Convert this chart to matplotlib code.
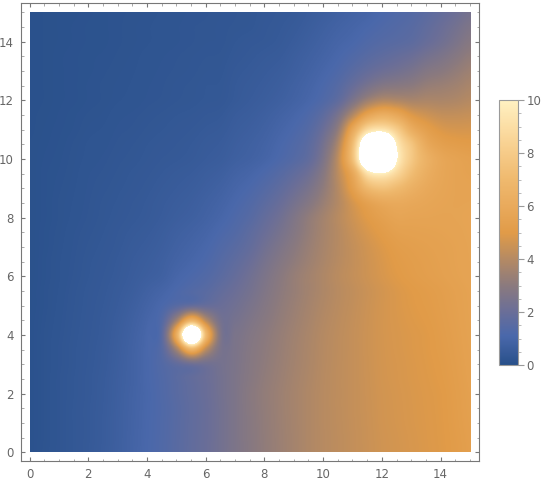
import numpy as np
import matplotlib
matplotlib.use("Agg")
import matplotlib.pyplot as plt
from matplotlib.colors import LinearSegmentedColormap, Normalize
from matplotlib.patches import Rectangle
from matplotlib.ticker import MultipleLocator

# ---- density values, on a 0.5-unit grid (x = 0 .. 15), one list per y ----
z_00 = [0.12,0.21,0.29,0.38,0.47,0.59,0.74,0.92,1.11,1.3,1.53,1.77,2.0,2.29,2.59,2.88,3.14,3.38,3.62,3.86,4.05,4.19,4.33,4.46,4.6,4.69,4.78,4.87,4.96,5.11,5.3]
z_05 = [0.12,0.2,0.29,0.38,0.46,0.58,0.73,0.91,1.1,1.29,1.52,1.76,1.99,2.28,2.6,2.89,3.15,3.39,3.62,3.86,4.05,4.19,4.33,4.47,4.61,4.7,4.79,4.88,4.97,5.13,5.32]
z_10 = [0.12,0.2,0.29,0.38,0.46,0.58,0.73,0.9,1.09,1.28,1.51,1.75,1.98,2.28,2.6,2.9,3.16,3.4,3.63,3.86,4.06,4.2,4.34,4.48,4.63,4.72,4.81,4.89,4.98,5.16,5.35]
z_15 = [0.12,0.2,0.29,0.38,0.46,0.57,0.72,0.89,1.08,1.27,1.5,1.74,1.97,2.28,2.6,2.92,3.17,3.41,3.64,3.86,4.06,4.21,4.35,4.49,4.64,4.73,4.82,4.9,4.99,5.18,5.38]
z_20 = [0.12,0.2,0.29,0.37,0.45,0.56,0.71,0.88,1.07,1.29,1.54,1.77,2.0,2.3,2.6,2.93,3.18,3.41,3.64,3.86,4.06,4.21,4.35,4.5,4.65,4.74,4.83,4.91,5.0,5.2,5.4]
z_25 = [0.12,0.2,0.29,0.37,0.45,0.55,0.7,0.86,1.09,1.31,1.57,1.82,2.03,2.31,2.59,2.88,3.14,3.37,3.61,3.83,4.05,4.21,4.35,4.51,4.67,4.76,4.85,4.93,5.04,5.23,5.43]
z_30 = [0.12,0.2,0.28,0.36,0.44,0.53,0.68,0.86,1.09,1.37,1.76,2.13,2.22,2.35,2.57,2.85,3.09,3.33,3.57,3.8,4.03,4.2,4.35,4.52,4.68,4.77,4.86,4.95,5.07,5.26,5.45]
z_35 = [0.12,0.2,0.28,0.36,0.43,0.52,0.66,0.85,1.1,1.52,3.62,6.66,4.08,2.48,2.56,2.82,3.05,3.29,3.54,3.78,4.02,4.19,4.35,4.53,4.69,4.79,4.88,4.97,5.11,5.29,5.48]
z_40 = [0.12,0.2,0.27,0.35,0.42,0.5,0.64,0.82,1.09,1.63,6.39,15,6.86,2.57,2.53,2.76,3.0,3.25,3.5,3.75,4.0,4.18,4.35,4.53,4.7,4.8,4.89,4.98,5.14,5.32,5.5]
z_45 = [0.12,0.19,0.26,0.34,0.41,0.49,0.61,0.78,1.01,1.41,3.49,6.51,3.92,2.31,2.38,2.64,2.9,3.17,3.43,3.69,3.95,4.15,4.33,4.52,4.7,4.82,4.93,5.03,5.18,5.35,5.52]
z_50 = [0.11,0.18,0.25,0.33,0.4,0.47,0.57,0.72,0.91,1.14,1.5,1.83,1.9,2.01,2.22,2.49,2.79,3.09,3.36,3.63,3.89,4.11,4.3,4.5,4.69,4.84,4.97,5.08,5.22,5.38,5.53]
z_55 = [0.11,0.18,0.24,0.32,0.39,0.45,0.54,0.65,0.81,0.97,1.18,1.38,1.54,1.8,2.06,2.34,2.68,3.01,3.29,3.57,3.84,4.08,4.28,4.48,4.68,4.86,5.01,5.13,5.26,5.41,5.54]
z_60 = [0.1,0.17,0.23,0.3,0.37,0.43,0.5,0.6,0.7,0.8,1.02,1.18,1.35,1.59,1.88,2.21,2.57,2.93,3.27,3.56,3.85,4.12,4.34,4.56,4.78,4.98,5.14,5.26,5.37,5.49,5.6]
z_65 = [0.1,0.17,0.23,0.29,0.36,0.41,0.48,0.57,0.65,0.75,0.9,1.04,1.2,1.45,1.71,2.02,2.41,2.77,3.11,3.44,3.76,4.06,4.32,4.58,4.83,5.06,5.2,5.31,5.41,5.52,5.61]
z_70 = [0.1,0.16,0.22,0.28,0.34,0.39,0.45,0.53,0.6,0.69,0.82,0.94,1.09,1.31,1.54,1.82,2.22,2.59,2.96,3.34,3.7,4.03,4.34,4.64,4.92,5.17,5.29,5.37,5.45,5.53,5.62]
z_75 = [0.1,0.16,0.21,0.27,0.32,0.37,0.43,0.49,0.55,0.64,0.75,0.85,0.98,1.17,1.37,1.67,2.02,2.39,2.8,3.24,3.65,4.03,4.43,4.8,5.12,5.38,5.44,5.48,5.52,5.57,5.64]
z_80 = [0.1,0.15,0.2,0.25,0.3,0.35,0.4,0.45,0.5,0.58,0.67,0.75,0.87,1.03,1.24,1.48,1.83,2.19,2.66,3.15,3.6,4.08,4.57,5.04,5.4,5.66,5.63,5.61,5.59,5.61,5.65]
z_85 = [0.1,0.15,0.2,0.24,0.29,0.34,0.38,0.43,0.48,0.55,0.62,0.69,0.8,0.93,1.12,1.33,1.62,1.95,2.37,2.81,3.36,3.98,4.75,5.47,5.92,6.03,5.89,5.75,5.65,5.6,5.61]
z_90 = [0.1,0.15,0.19,0.23,0.28,0.32,0.36,0.4,0.45,0.51,0.57,0.63,0.72,0.83,1.0,1.17,1.41,1.7,2.07,2.49,3.13,4.04,5.37,7.0,7.5,7.06,6.43,5.97,5.72,5.6,5.56]
z_95 = [0.1,0.15,0.18,0.22,0.27,0.3,0.34,0.38,0.42,0.47,0.52,0.57,0.65,0.73,0.88,1.01,1.2,1.45,1.76,2.16,2.91,4.19,6.0,9.3,9.9,8.6,7.2,6.28,5.79,5.59,5.49]
z_100 = [0.1,0.14,0.17,0.21,0.25,0.28,0.32,0.35,0.39,0.43,0.46,0.5,0.57,0.63,0.75,0.84,0.98,1.19,1.43,1.78,2.63,4.28,7.6,13.6,15.4,10.0,7.8,6.49,5.8,5.55,5.41]
z_105 = [0.1,0.13,0.16,0.2,0.24,0.26,0.3,0.33,0.37,0.4,0.43,0.47,0.53,0.58,0.69,0.78,0.9,1.09,1.31,1.63,2.39,3.89,7.4,12.9,14.4,9.6,7.6,5.97,5.36,5.16,5.08]
z_110 = [0.09,0.12,0.15,0.18,0.22,0.24,0.28,0.3,0.34,0.37,0.4,0.43,0.48,0.52,0.63,0.71,0.82,0.98,1.17,1.45,2.06,3.22,6.0,8.8,9.3,8.0,6.21,5.31,4.85,4.73,4.74]
z_115 = [0.09,0.11,0.14,0.17,0.2,0.22,0.26,0.28,0.31,0.34,0.37,0.39,0.43,0.46,0.57,0.64,0.74,0.87,1.03,1.26,1.69,2.49,3.97,5.6,6.3,5.8,4.9,4.53,4.32,4.31,4.38]
z_120 = [0.08,0.1,0.13,0.15,0.18,0.2,0.23,0.25,0.28,0.3,0.33,0.35,0.38,0.4,0.49,0.57,0.65,0.75,0.88,1.05,1.31,1.73,2.56,3.42,3.89,3.82,3.7,3.77,3.76,3.84,4.01]
z_125 = [0.08,0.1,0.13,0.15,0.18,0.2,0.22,0.24,0.27,0.29,0.32,0.34,0.37,0.38,0.47,0.53,0.6,0.68,0.81,0.96,1.17,1.46,1.93,2.41,2.76,2.88,3.0,3.24,3.36,3.51,3.73]
z_130 = [0.08,0.1,0.13,0.15,0.17,0.19,0.21,0.23,0.26,0.28,0.3,0.32,0.35,0.36,0.44,0.49,0.55,0.62,0.73,0.87,1.04,1.25,1.55,1.85,2.09,2.26,2.47,2.77,2.94,3.18,3.44]
z_135 = [0.08,0.1,0.13,0.15,0.17,0.18,0.2,0.22,0.25,0.27,0.29,0.31,0.33,0.34,0.4,0.45,0.5,0.55,0.67,0.79,0.93,1.1,1.3,1.51,1.69,1.86,2.04,2.32,2.56,2.85,3.15]
z_140 = [0.08,0.1,0.12,0.14,0.16,0.17,0.19,0.21,0.23,0.25,0.27,0.29,0.31,0.32,0.37,0.41,0.44,0.49,0.59,0.71,0.84,0.98,1.1,1.28,1.42,1.52,1.65,1.92,2.19,2.52,2.86]
z_145 = [0.08,0.1,0.12,0.14,0.16,0.17,0.19,0.21,0.23,0.25,0.27,0.29,0.3,0.32,0.34,0.36,0.42,0.46,0.53,0.64,0.76,0.88,0.99,1.12,1.26,1.38,1.51,1.75,2.02,2.31,2.62]
z_150 = [0.08,0.1,0.12,0.13,0.15,0.17,0.19,0.2,0.22,0.24,0.26,0.28,0.29,0.31,0.33,0.35,0.4,0.44,0.48,0.58,0.68,0.79,0.89,0.98,1.14,1.27,1.4,1.6,1.84,2.09,2.37]

x_ticks = [0, 2, 4, 6, 8, 10, 12, 14]
y_ticks = [0, 2, 4, 6, 8, 10, 12, 14]
cbar_ticks = [0, 2, 4, 6, 8, 10]

# colour gradient (value / 10 -> colour)
grad_pos = [0.0, 0.11, 0.2, 0.3, 0.4, 0.5, 0.6, 0.7, 0.8, 0.9, 1.0]
grad_col = ["#28508a", "#4a68ab", "#6a6e98", "#8b7a7e", "#b58a63", "#e19b48",
            "#e9aa5c", "#efb96e", "#f6cb88", "#fcdea5", "#fff1c2"]

field = np.array([z_00, z_05, z_10, z_15, z_20, z_25, z_30, z_35, z_40, z_45,
                  z_50, z_55, z_60, z_65, z_70, z_75, z_80, z_85, z_90, z_95,
                  z_100, z_105, z_110, z_115, z_120, z_125, z_130, z_135, z_140,
                  z_145, z_150], dtype=float)

cmap = LinearSegmentedColormap.from_list("m10dens", list(zip(grad_pos, grad_col)), N=512)
cmap.set_over("white")
norm = Normalize(vmin=0, vmax=10)

W, H = 552, 484
fig = plt.figure(figsize=(W / 100, H / 100), dpi=100)
fig.patch.set_facecolor("white")

ax = fig.add_axes([20.7 / W, 1 - 461 / H, (479 - 20.7) / W, (461 - 3) / H])
half = 0.25
im = ax.imshow(field, origin="lower", extent=(-half, 15 + half, -half, 15 + half),
               cmap=cmap, norm=norm, interpolation="catrom",
               interpolation_stage="data", aspect="auto")
im.set_clip_path(Rectangle((0, 0), 15, 15, transform=ax.transData))
ax.set_xlim(-0.3, 15.31)
ax.set_ylim(-0.3, 15.32)

ax.set_xticks(x_ticks)
ax.set_yticks(y_ticks)
ax.xaxis.set_minor_locator(MultipleLocator(0.5))
ax.yaxis.set_minor_locator(MultipleLocator(0.5))
ax.tick_params(which="both", direction="in", top=True, right=True,
               labeltop=False, labelright=False)
ax.tick_params(which="major", length=3.2, width=0.8, color="#777777",
               labelsize=8.5, labelcolor="#666666", pad=5)
ax.tick_params(which="minor", length=1.8, width=0.6, color="#9a9a9a")
for s in ax.spines.values():
    s.set_color("#777777")
    s.set_linewidth(0.8)

cax = fig.add_axes([499.3 / W, 1 - 365 / H, 18.4 / W, 265 / H])
cb = fig.colorbar(im, cax=cax, ticks=cbar_ticks)
cb.outline.set_edgecolor("#9a9a9a")
cb.outline.set_linewidth(0.8)
cax.yaxis.set_minor_locator(MultipleLocator(0.5))
cax.tick_params(which="major", direction="out", length=4.3, width=0.8,
                color="#9a9a9a", labelsize=8.5, labelcolor="#666666", pad=2)
cax.tick_params(which="minor", direction="out", length=2.4, width=0.6, color="#b0b0b0")

fig.savefig("out.png", dpi=100, facecolor="white")
